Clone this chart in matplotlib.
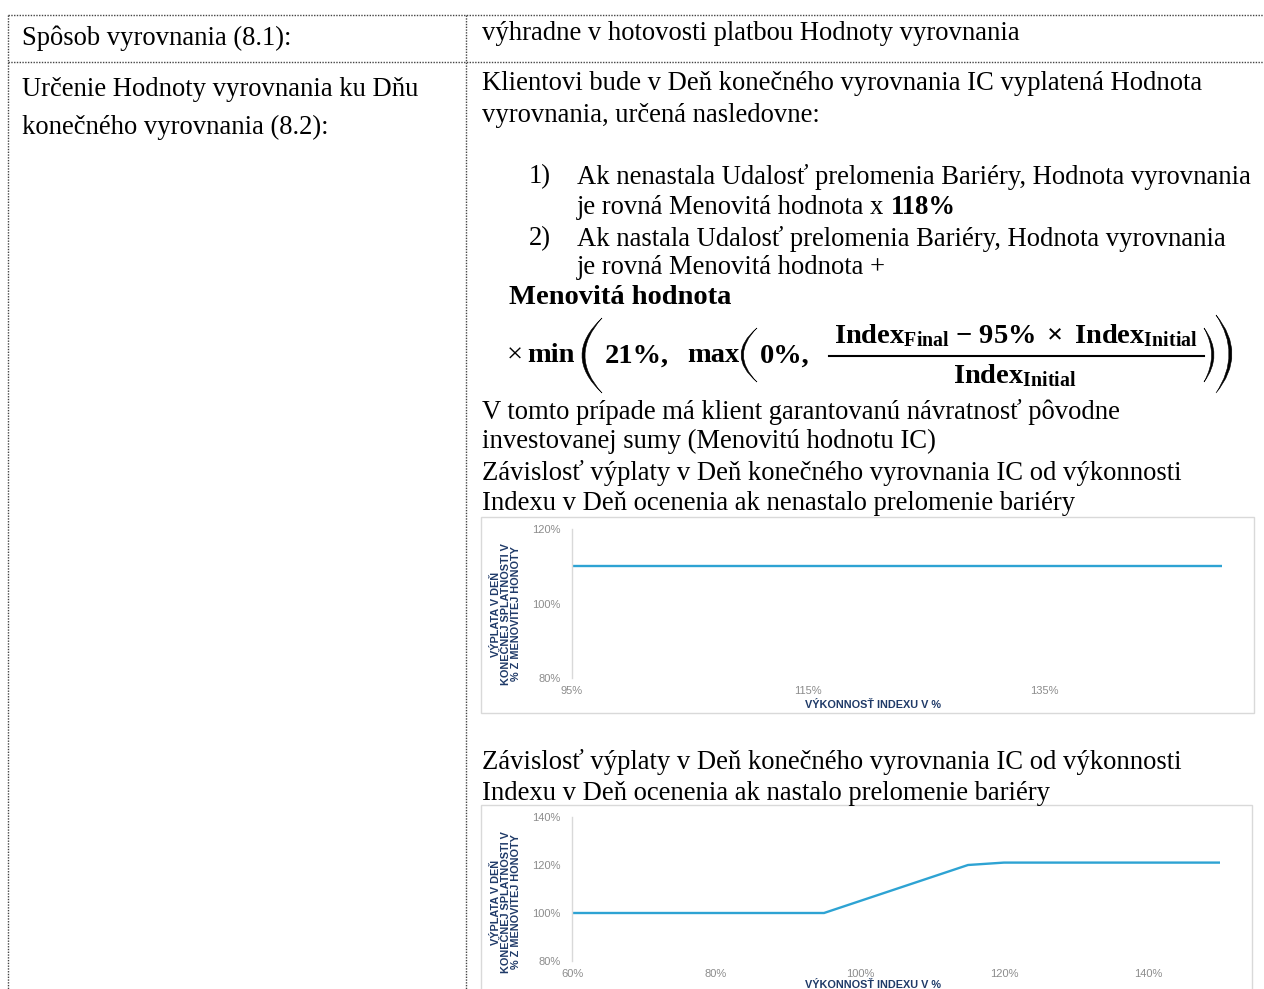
import matplotlib
matplotlib.use('Agg')
import matplotlib.pyplot as plt
from matplotlib.lines import Line2D
from matplotlib.patches import Rectangle, PathPatch
from matplotlib.path import Path

W, H = 1264, 989
DPI = 100

# ---------------- data ----------------
chart1_x = [95, 150]
chart1_y = [110, 110]
chart1_xticks = [95, 115, 135]
chart1_yticks = [80, 100, 120]

chart2_x = [60, 95, 115, 120, 150]
chart2_y = [100, 100, 120, 121, 121]
chart2_xticks = [60, 80, 100, 120, 140]
chart2_yticks = [80, 100, 120, 140]

ylabel_text = "VÝPLATA V DEŇ\nKONEČNEJ SPLATNOSTI V\n% Z MENOVITEJ HONOTY"
xlabel_text = "VÝKONNOSŤ INDEXU V %"

plt.rcParams['mathtext.fontset'] = 'custom'
plt.rcParams['mathtext.rm'] = 'Liberation Serif'
plt.rcParams['mathtext.bf'] = 'Liberation Serif:bold'
plt.rcParams['mathtext.it'] = 'Liberation Serif:italic'

fig = plt.figure(figsize=(W / DPI, H / DPI), dpi=DPI)
fig.patch.set_facecolor('white')


def fx(x):
    return x / W


def fy(y):
    return 1 - y / H


SERIF = 'Liberation Serif'
FS = 19.2


def txt(x, y, s, **kw):
    kw.setdefault('family', SERIF)
    kw.setdefault('fontsize', FS)
    kw.setdefault('va', 'center')
    kw.setdefault('color', 'black')
    return fig.text(fx(x), fy(y), s, **kw)


def hline(y, x0, x1, **kw):
    fig.add_artist(Line2D([fx(x0), fx(x1)], [fy(y), fy(y)], transform=fig.transFigure, **kw))


def vline(x, y0, y1, **kw):
    fig.add_artist(Line2D([fx(x), fx(x)], [fy(y0), fy(y1)], transform=fig.transFigure, **kw))


def paren(x_tip, x_belly, y_top, y_bot, thick):
    """Thin crescent-shaped bracket drawn as a filled path (pixel coords)."""
    ym = (y_top + y_bot) / 2
    d = 1 if x_belly > x_tip else -1
    outer_ctrl = 2 * x_belly - x_tip
    inner_belly = x_belly - d * thick
    inner_ctrl = 2 * inner_belly - x_tip
    pts = [(x_tip, y_top), (outer_ctrl, ym), (x_tip, y_bot), (inner_ctrl, ym), (x_tip, y_top)]
    verts = [(fx(a), fy(b)) for a, b in pts]
    codes = [Path.MOVETO, Path.CURVE3, Path.CURVE3, Path.CURVE3, Path.CURVE3]
    fig.add_artist(PathPatch(Path(verts, codes), transform=fig.transFigure,
                             facecolor='black', edgecolor='black', lw=0.4))


# ---------------- table grid ----------------
dot = dict(color='#444444', lw=1.0, linestyle=(0, (1, 1)))
hline(15, 8, 1264, **dot)
hline(62, 8, 1264, **dot)
vline(8, 15, 989, **dot)
vline(466, 15, 989, **dot)

# ---------------- left column ----------------
txt(22, 38, "Spôsob vyrovnania (8.1):")
txt(22, 89, "Určenie Hodnoty vyrovnania ku Dňu")
txt(22, 127, "konečného vyrovnania (8.2):")

# ---------------- right column ----------------
txt(482, 33, "výhradne v hotovosti platbou Hodnoty vyrovnania")
txt(482, 84, "Klientovi bude v Deň konečného vyrovnania IC vyplatená Hodnota")
txt(482, 115, "vyrovnania, určená nasledovne:")

txt(529, 177, "1)")
txt(577, 177, "Ak nenastala Udalosť prelomenia Bariéry, Hodnota vyrovnania")
t = txt(577, 207, "je rovná Menovitá hodnota x ")
fig.canvas.draw()
r = fig.canvas.get_renderer()
bb = t.get_window_extent(r)
txt(bb.x1, 207, "118%", weight='bold')
txt(529, 239, "2)")
txt(577, 239, "Ak nastala Udalosť prelomenia Bariéry, Hodnota vyrovnania")
txt(577, 268, "je rovná Menovitá hodnota +")

# formula
FF = 20.5
txt(509, 298, "Menovitá hodnota", weight='bold', fontsize=FF)
txt(507, 356, "×", fontsize=FF)
txt(527, 356, "min", weight='bold', fontsize=FF)
paren(602, 582, 318, 393, 3.0)
txt(605, 356, "21%,", weight='bold', fontsize=FF)
txt(687, 356, "max", weight='bold', fontsize=FF)
paren(757, 741, 328, 382, 2.4)
txt(760, 356, "0%,", weight='bold', fontsize=FF)
txt(1016, 336, r"$\mathbf{Index}_{\mathbf{Final}}\ \mathbf{-\ 95\%\ \times\ Index}_{\mathbf{Initial}}$",
    fontsize=FF, ha='center')
hline(356, 829, 1204, color='black', lw=1.5)
txt(1015, 376, r"$\mathbf{Index}_{\mathbf{Initial}}$", fontsize=FF, ha='center')
paren(1204, 1214, 328, 382, 2.4)
paren(1216, 1232, 315, 393, 3.0)

txt(482, 412, "V tomto prípade má klient garantovanú návratnosť pôvodne")
txt(482, 441, "investovanej sumy (Menovitú hodnotu IC)")
txt(482, 473, "Závislosť výplaty v Deň konečného vyrovnania IC od výkonnosti")
txt(482, 504, "Indexu v Deň ocenenia ak nenastalo prelomenie bariéry")

txt(482, 762, "Závislosť výplaty v Deň konečného vyrovnania IC od výkonnosti")
txt(482, 793, "Indexu v Deň ocenenia ak nastalo prelomenie bariéry")

# ---------------- charts ----------------
LINE_C = '#2EA3D3'
TICK_C = '#8C8C8C'
LAB_C = '#1F3A68'
SANS = 'Liberation Sans'
LBL_FS = 7.8


def frame(x0, y0, x1, y1):
    fig.add_artist(Rectangle((fx(x0), fy(y1)), fx(x1) - fx(x0), fy(y0) - fy(y1),
                             transform=fig.transFigure, fill=False,
                             edgecolor='#D9D9D9', lw=1.0))


def make_axes(left, right, top, bottom):
    ax = fig.add_axes([fx(left), fy(bottom), fx(right) - fx(left), fy(top) - fy(bottom)])
    ax.set_facecolor('none')
    for s in ['top', 'right', 'bottom']:
        ax.spines[s].set_visible(False)
    ax.spines['left'].set_color('#D9D9D9')
    ax.spines['left'].set_linewidth(1.0)
    ax.tick_params(axis='y', length=0, labelsize=8, labelcolor=TICK_C, pad=8)
    ax.tick_params(axis='x', length=0, labelsize=8, labelcolor=TICK_C, pad=6)
    return ax


def pct(v):
    return f"{v}%"


# chart 1
frame(481, 517, 1254, 713)
ax1 = make_axes(572, 1222, 529, 678)
ax1.plot(chart1_x, chart1_y, color=LINE_C, lw=1.7, solid_capstyle='butt')
ax1.set_xlim(chart1_x[0], chart1_x[-1])
ax1.set_ylim(chart1_yticks[0], chart1_yticks[-1])
ax1.set_xticks(chart1_xticks, [pct(v) for v in chart1_xticks], family=SANS)
ax1.set_yticks(chart1_yticks, [pct(v) for v in chart1_yticks], family=SANS)
txt(873, 705, xlabel_text, family=SANS, fontsize=LBL_FS, weight='bold', color=LAB_C, ha='center')
txt(506, 614, ylabel_text, family=SANS, fontsize=LBL_FS, weight='bold', color=LAB_C,
    ha='center', rotation=90, multialignment='center', linespacing=0.95)

# chart 2
frame(481, 805, 1252, 995)
ax2 = make_axes(572, 1220, 817, 961)
ax2.plot(chart2_x, chart2_y, color=LINE_C, lw=1.7, solid_capstyle='butt')
ax2.set_xlim(chart2_x[0], chart2_x[-1])
ax2.set_ylim(chart2_yticks[0], chart2_yticks[-1])
ax2.set_xticks(chart2_xticks, [pct(v) for v in chart2_xticks], family=SANS)
ax2.set_yticks(chart2_yticks, [pct(v) for v in chart2_yticks], family=SANS)
txt(873, 985, xlabel_text, family=SANS, fontsize=LBL_FS, weight='bold', color=LAB_C, ha='center')
txt(506, 902, ylabel_text, family=SANS, fontsize=LBL_FS, weight='bold', color=LAB_C,
    ha='center', rotation=90, multialignment='center', linespacing=0.95)

fig.savefig('out.png', dpi=DPI)
